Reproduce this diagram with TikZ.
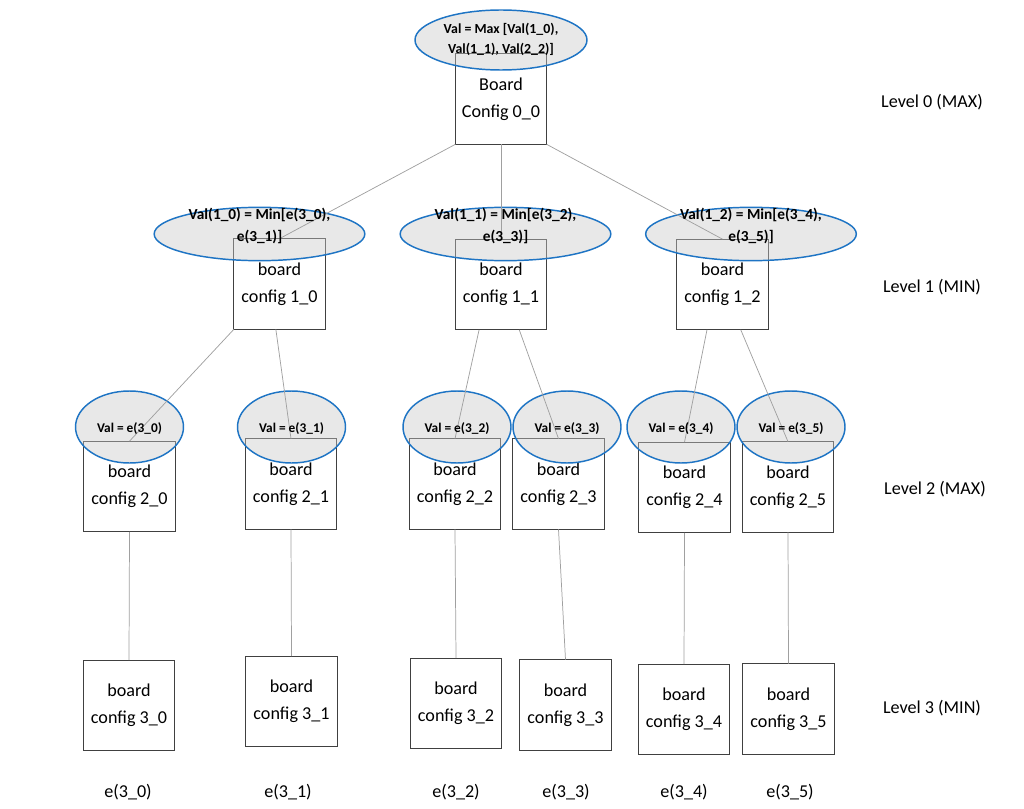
\documentclass[tikz,border=0pt]{standalone}
\usepackage{fontspec}
\setmainfont{Carlito}
\usetikzlibrary{shapes.geometric,calc}
\definecolor{ellblue}{RGB}{30,116,196}
\definecolor{boxgray}{RGB}{64,64,64}
\definecolor{linegray}{RGB}{160,160,160}
\definecolor{ellfill}{RGB}{200,200,200}
\begin{document}
\begin{tikzpicture}[x=0.75pt,y=-0.75pt,
  boardbox/.style={draw=boxgray,line width=0.9pt,rectangle,minimum width=68.5pt,minimum height=68pt,inner sep=0pt,outer sep=0pt,align=center,font=\fontsize{13.6}{20}\selectfont},
  valell/.style={draw=ellblue,line width=1.1pt,ellipse,fill=ellfill,fill opacity=0.42,inner sep=0pt,outer sep=0pt},
  ellA/.style={valell,minimum width=129pt,minimum height=45pt},
  ellB/.style={valell,minimum width=158pt,minimum height=40pt},
  ellC/.style={valell,minimum width=81pt,minimum height=54pt},
  link/.style={draw=linegray,line width=0.55pt},
  valtxtA/.style={font=\bfseries\fontsize{10.4}{15}\selectfont,align=center,inner sep=0pt},
  valtxtB/.style={font=\bfseries\fontsize{11.5}{17}\selectfont,align=center,inner sep=0pt},
  valtxtC/.style={font=\bfseries\fontsize{10}{12}\selectfont,inner sep=0pt},
  plain/.style={font=\fontsize{13.6}{20}\selectfont,inner sep=0pt}
]
\useasboundingbox (0,0) rectangle (1024,809);

% boxes
\node[boardbox] (b00) at (501,99) {Board\\Config 0\_0};
\node[boardbox] (b10) at (279.5,284) {board\\config 1\_0};
\node[boardbox] (b11) at (501,284.5) {board\\config 1\_1};
\node[boardbox] (b12) at (722.5,284.5) {board\\config 1\_2};
\node[boardbox] (b20) at (129.5,486.5) {board\\config 2\_0};
\node[boardbox] (b21) at (291,484) {board\\config 2\_1};
\node[boardbox] (b22) at (455,484) {board\\config 2\_2};
\node[boardbox] (b23) at (558.5,484) {board\\config 2\_3};
\node[boardbox] (b24) at (684.5,487.5) {board\\config 2\_4};
\node[boardbox] (b25) at (788,487) {board\\config 2\_5};
\node[boardbox] (b30) at (129,705.5) {board\\config 3\_0};
\node[boardbox] (b31) at (291.5,701.5) {board\\config 3\_1};
\node[boardbox] (b32) at (456,703.5) {board\\config 3\_2};
\node[boardbox] (b33) at (565.5,705) {board\\config 3\_3};
\node[boardbox] (b34) at (684,709.5) {board\\config 3\_4};
\node[boardbox] (b35) at (788.5,709) {board\\config 3\_5};

% ellipses
\node[ellA] (e00) at (501,40) {};
\node[ellB] (e10) at (259.5,234) {};
\node[ellB] (e11) at (505.5,234) {};
\node[ellB] (e12) at (751,234) {};
\node[ellC] (e20) at (129.5,427) {};
\node[ellC] (e21) at (291.5,427) {};
\node[ellC] (e22) at (457,427) {};
\node[ellC] (e23) at (567,427) {};
\node[ellC] (e24) at (681,427) {};
\node[ellC] (e25) at (791,427) {};

% connectors
\draw[link] (b00.south west) -- (b10.north);
\draw[link] (b00.south) -- (b11.north);
\draw[link] (b00.south east) -- (b12.north);
\draw[link] (b10.south west) -- (b20.north);
\draw[link] ($(b10.south west)!0.46!(b10.south east)$) -- (b21.north);
\draw[link] ($(b11.south west)!0.26!(b11.south east)$) -- (b22.north);
\draw[link] ($(b11.south west)!0.70!(b11.south east)$) -- (b23.north);
\draw[link] ($(b12.south west)!0.33!(b12.south east)$) -- (b24.north);
\draw[link] ($(b12.south west)!0.70!(b12.south east)$) -- (b25.north);
\draw[link] (b20.south) -- (b30.north);
\draw[link] (b21.south) -- (b31.north);
\draw[link] (b22.south) -- (b32.north);
\draw[link] (b23.south) -- (b33.north);
\draw[link] (b24.south) -- (b34.north);
\draw[link] (b25.south) -- (b35.north);

% ellipse texts
\node[valtxtA] (t00) at (501,39) {Val = Max [Val(1\_0),\\Val(1\_1), Val(2\_2)]};
\node[valtxtB] (t10) at (259.5,226) {Val(1\_0) = Min[e(3\_0),\\e(3\_1)]};
\node[valtxtB] (t11) at (505.5,226) {Val(1\_1) = Min[e(3\_2),\\e(3\_3)]};
\node[valtxtB] (t12) at (751,226) {Val(1\_2) = Min[e(3\_4),\\e(3\_5)]};
\node[valtxtC] (t20) at (129.5,429) {Val = e(3\_0)};
\node[valtxtC] (t21) at (291.5,429) {Val = e(3\_1)};
\node[valtxtC] (t22) at (457,429) {Val = e(3\_2)};
\node[valtxtC] (t23) at (567,429) {Val = e(3\_3)};
\node[valtxtC] (t24) at (681,429) {Val = e(3\_4)};
\node[valtxtC] (t25) at (791,429) {Val = e(3\_5)};

% level labels
\node[plain] (l0) at (932,102) {Level 0 (MAX)};
\node[plain] (l1) at (932,287) {Level 1 (MIN)};
\node[plain] (l2) at (935,489) {Level 2 (MAX)};
\node[plain] (l3) at (932,708) {Level 3 (MIN)};

% evaluations
\node[plain] (v0) at (128,792) {e(3\_0)};
\node[plain] (v1) at (288,792) {e(3\_1)};
\node[plain] (v2) at (456,792) {e(3\_2)};
\node[plain] (v3) at (566,792) {e(3\_3)};
\node[plain] (v4) at (684,792) {e(3\_4)};
\node[plain] (v5) at (790,792) {e(3\_5)};
\end{tikzpicture}
\end{document}
